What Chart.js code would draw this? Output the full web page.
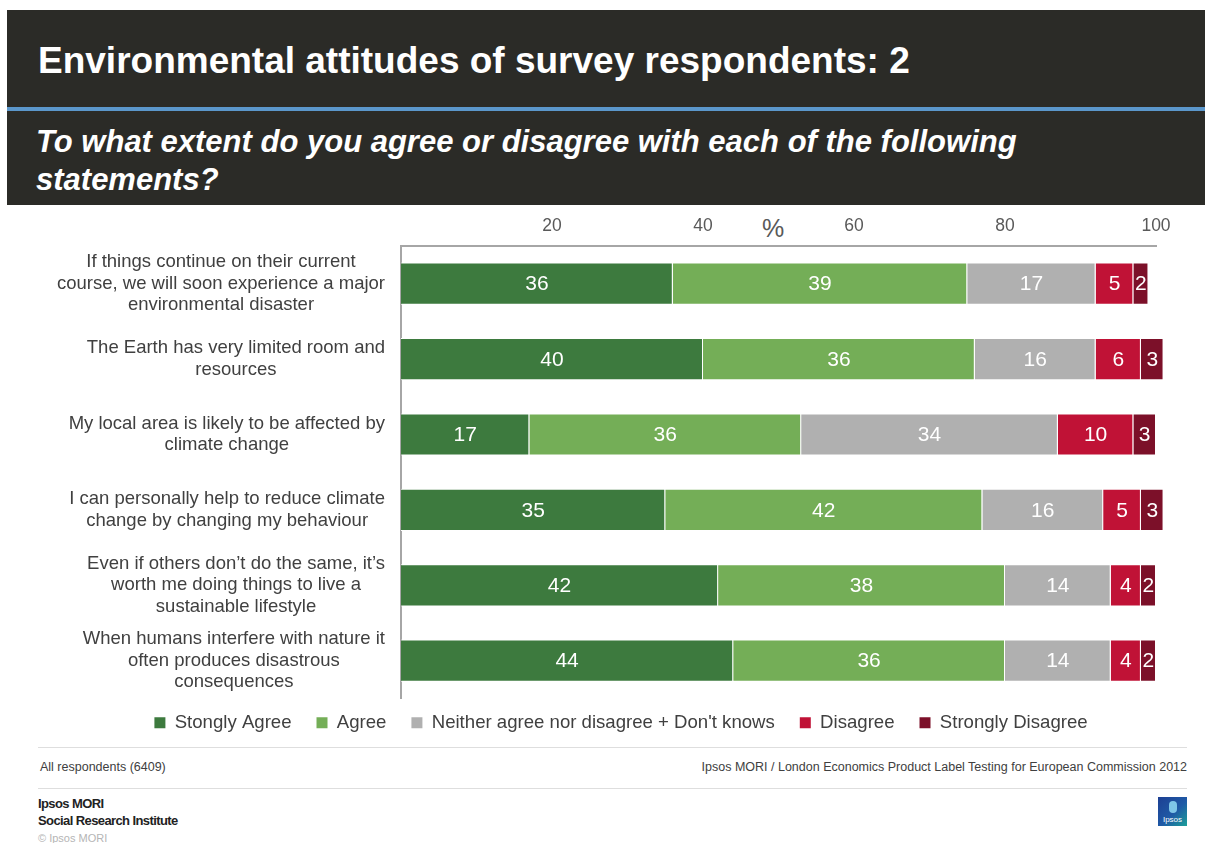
<!DOCTYPE html>
<html>
<head>
<meta charset="utf-8">
<script src="https://cdn.jsdelivr.net/npm/chart.js@4.4.1/dist/chart.umd.min.js"></script>
<style>
  body { margin: 0; width: 1205px; height: 843px; background: #fff; position: relative; overflow: hidden;
         font-family: "Liberation Sans", Arial, sans-serif; }
  .band { position: absolute; left: 7px; width: 1198px; background: #2b2b27; }
  #band1 { top: 10px; height: 97px; }
  #stripe { position: absolute; left: 7px; top: 107px; width: 1198px; height: 4px; background: #5b97cb; }
  #band2 { top: 111px; height: 94px; }
  h1 { position: absolute; left: 31px; top: 30px; margin: 0; color: #fff; font-size: 37px; font-weight: bold; white-space: nowrap; }
  h2 { position: absolute; left: 29px; top: 12px; margin: 0; color: #fff; font-size: 31px; font-weight: bold;
       font-style: italic; line-height: 38px; white-space: nowrap; }
  #wrap { position: absolute; left: 40px; top: 207px; width: 1162px; height: 545px; }
  #pct { position: absolute; left: 762px; top: 214px; font-size: 25px; color: #595959; }
  .rule { position: absolute; left: 38px; width: 1149px; height: 1px; background: #dedede; z-index: 2; }
  .note { position: absolute; top: 760px; font-size: 12.5px; color: #404040; z-index: 2; }
  .brand { position: absolute; left: 38px; font-size: 13px; font-weight: bold; color: #222; letter-spacing: -0.6px; z-index: 2; }
  #copy { position: absolute; left: 38px; top: 832px; font-size: 11px; color: #b5b5b5; z-index: 2; }
  #logo { position: absolute; left: 1158px; top: 797px; width: 29px; height: 29px; z-index: 2;
          background: linear-gradient(135deg, #1d3f93 0%, #1f5aa6 55%, #1b9f98 100%); }
  #logo span { position: absolute; left: 0; width: 29px; bottom: 2px; text-align: center; color: #fff; font-size: 8px; }
  #logo i { position: absolute; left: 11px; top: 4px; width: 8px; height: 12px; border-radius: 4px; background: #7fc6e8; }
</style>
</head>
<body>
<div class="band" id="band1"><h1>Environmental attitudes of survey respondents: 2</h1></div>
<div id="stripe"></div>
<div class="band" id="band2"><h2>To what extent do you agree or disagree with each of the following<br>statements?</h2></div>

<div id="pct">%</div>
<div id="wrap"><canvas id="attitudes"></canvas></div>

<div class="rule" style="top:747px"></div>
<div class="note" style="left:40px">All respondents (6409)</div>
<div class="note" style="right:18px">Ipsos MORI / London Economics Product Label Testing for European Commission 2012</div>
<div class="rule" style="top:788px"></div>
<div class="brand" style="top:796px">Ipsos MORI</div>
<div class="brand" style="top:813px">Social Research Institute</div>
<div id="copy">© Ipsos MORI</div>
<div id="logo"><i></i><span>Ipsos</span></div>

<script>
// Statements (one array of lines per bar)
const statements = [
    ['If things continue on their current', 'course, we will soon experience a major', 'environmental disaster'],
    ['The Earth has very limited room and', 'resources'],
    ['My local area is likely to be affected by', 'climate change'],
    ['I can personally help to reduce climate', 'change by changing my behaviour'],
    ['Even if others don\u2019t do the same, it\u2019s', 'worth me doing things to live a', 'sustainable lifestyle'],
    ['When humans interfere with nature it', 'often produces disastrous', 'consequences']
];

// Percentages per answer
const stronglyAgree    = [36, 40, 17, 35, 42, 44];
const agree            = [39, 36, 36, 42, 38, 36];
const neither          = [17, 16, 34, 16, 14, 14];
const disagree         = [5, 6, 10, 5, 4, 4];
const stronglyDisagree = [2, 3, 3, 3, 2, 2];

const seriesNames  = ['Stongly Agree', 'Agree', 'Neither agree nor disagree + Don\'t knows', 'Disagree', 'Strongly Disagree'];
const seriesColors = ['#3d7a3e', '#74ae57', '#b0b0b0', '#c01236', '#7c1029'];

const FONT = '"Liberation Sans", Arial, sans-serif';

// Numbers written inside each segment
const segmentLabels = {
    id: 'segmentLabels',
    afterDatasetsDraw(chart) {
        const ctx = chart.ctx;
        ctx.save();
        ctx.font = '21px ' + FONT;
        ctx.fillStyle = '#ffffff';
        ctx.textAlign = 'center';
        ctx.textBaseline = 'middle';
        chart.data.datasets.forEach((ds, i) => {
            chart.getDatasetMeta(i).data.forEach((bar, j) => {
                const p = bar.getProps(['x', 'y', 'base'], true);
                ctx.fillText(ds.data[j], (p.x + p.base) / 2, p.y + 1);
            });
        });
        ctx.restore();
    }
};

// Pull the legend row up closer to the bars
const legendNudge = {
    id: 'legendNudge',
    afterLayout(chart) {
        if (chart.legend) {
            chart.legend.top -= 10;
            chart.legend.bottom -= 10;
        }
    }
};

// Each statement sits right against the axis, its lines centred on its widest line
const statementAlign = {
    id: 'statementAlign',
    beforeDraw(chart) {
        const y = chart.scales.y;
        if (!y._getLabelSizes) return;
        const widths = y._getLabelSizes().widths;
        const right = y.right - y.options.ticks.padding;
        y.getLabelItems().forEach((item, i) => {
            item.options.textAlign = 'center';
            item.options.translation[0] = right - widths[i] / 2;
        });
    }
};

const values = [stronglyAgree, agree, neither, disagree, stronglyDisagree];

new Chart(document.getElementById('attitudes'), {
    type: 'bar',
    data: {
        labels: statements,
        datasets: values.map((data, i) => ({
            label: seriesNames[i],
            data: data,
            backgroundColor: seriesColors[i],
            borderColor: '#ffffff',
            borderWidth: 1,
            categoryPercentage: 1,
            barPercentage: 0.56,
            clip: false
        }))
    },
    options: {
        indexAxis: 'y',
        responsive: true,
        maintainAspectRatio: false,
        animation: false,
        scales: {
            x: {
                position: 'top',
                stacked: true,
                min: 0,
                max: 100,
                grid: { display: false, drawTicks: false },
                border: { display: true, color: '#a6a6a6', width: 2 },
                ticks: {
                    stepSize: 20,
                    padding: 9,
                    color: '#595959',
                    font: { family: FONT, size: 17.5 },
                    callback: v => (v === 0 ? '' : v)
                },
                afterFit(scale) {
                    scale.height = 39;
                    scale.paddingLeft = 0;
                    scale.paddingRight = 46;
                }
            },
            y: {
                stacked: true,
                grid: { display: false, drawTicks: false },
                border: { display: true, color: '#a6a6a6', width: 2 },
                ticks: {
                    autoSkip: false,
                    padding: 16,
                    crossAlign: 'center',
                    color: '#404040',
                    font: { family: FONT, size: 18.5, lineHeight: 1.16 }
                },
                afterFit(scale) {
                    scale.width = 361;
                    scale.paddingTop = 0;
                    scale.paddingBottom = 0;
                }
            }
        },
        plugins: {
            legend: {
                position: 'bottom',
                labels: {
                    boxWidth: 11,
                    boxHeight: 11,
                    padding: 25,
                    color: '#404040',
                    font: { family: FONT, size: 18.6 },
                    generateLabels(chart) {
                        return Chart.defaults.plugins.legend.labels.generateLabels(chart)
                            .map(item => Object.assign(item, { lineWidth: 0 }));
                    }
                }
            },
            tooltip: { enabled: false }
        }
    },
    plugins: [segmentLabels, legendNudge, statementAlign]
});
</script>
</body>
</html>
